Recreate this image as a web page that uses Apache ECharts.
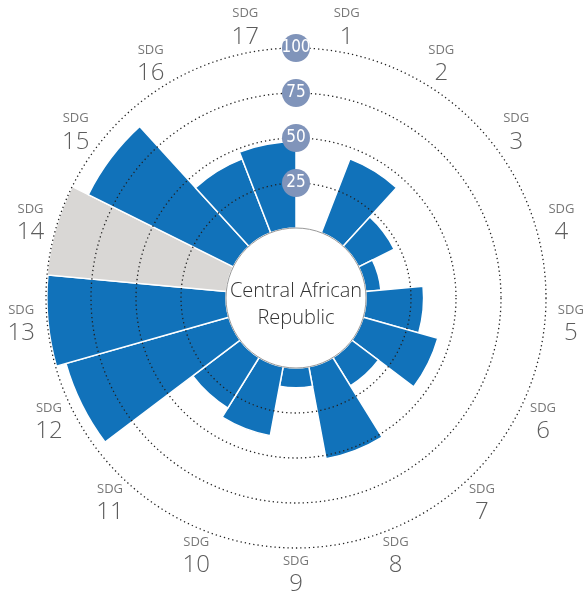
<!DOCTYPE html>
<html>
<head>
<meta charset="utf-8">
<script src="https://cdn.jsdelivr.net/npm/echarts@6/dist/echarts.min.js"></script>
<style>html,body{margin:0;padding:0;background:#fff}#c{width:584px;height:592px}</style>
</head>
<body>
<div id="c"></div>
<script>
// SDG goal numbers (angle categories, clockwise from 12 o'clock)
const categories = ['1','2','3','4','5','6','7','8','9','10','11','12','13','14','15','16','17'];
// Score per SDG (null = no bar drawn)
const values = [null, 44, 22, 8.5, 32, 43, 18.5, 52, 11, 39, 33, 94, 99.5, 100, 90, 44, 48];
// SDG with insufficient data (drawn in grey)
const missing = [false,false,false,false,false,false,false,false,false,false,false,false,false,true,false,false,false];
const ringTicks = [25, 50, 75, 100];
const countryLines = ['Central African', 'Republic'];

const CX = 296, CY = 298;
const BLUE = '#1172BA', GREY = '#D9D7D5';

const barData = values.map((v, i) => ({
  value: v,
  itemStyle: { color: missing[i] ? GREY : BLUE }
}));

const chart = echarts.init(document.getElementById('c'), null, { renderer: 'canvas' });
chart.setOption({
  animation: false,
  backgroundColor: '#fff',
  polar: [
    { center: [CX, CY], radius: [70, 250] },
    { center: [CX, CY], radius: [0, 276] }
  ],
  angleAxis: [
    { polarIndex: 0, type: 'category', data: categories, startAngle: 90, clockwise: true,
      boundaryGap: true, axisLine: { show: false }, axisTick: { show: false },
      axisLabel: { show: false }, splitLine: { show: false } },
    { polarIndex: 1, type: 'category', data: categories, startAngle: 90, clockwise: true,
      boundaryGap: true, axisLine: { show: false }, axisTick: { show: false },
      axisLabel: { show: false }, splitLine: { show: false } }
  ],
  radiusAxis: [
    { polarIndex: 0, min: 0, max: ringTicks[ringTicks.length - 1], interval: 25, z: 5,
      axisLine: { show: false }, axisTick: { show: false },
      splitLine: { show: true, lineStyle: { color: ['rgba(0,0,0,0)', '#222', '#222', '#222', '#222'], width: 1.3, type: [1.3, 3] } },
      axisLabel: {
        show: true, showMinLabel: false, margin: 0, align: 'center', verticalAlign: 'middle',
        backgroundColor: '#8094BA', borderRadius: 14, width: 28, height: 28, lineHeight: 28,
        color: '#fff', fontSize: 17, fontFamily: '"DejaVu Sans Condensed", "Liberation Sans Narrow", sans-serif',
        formatter: v => ringTicks.indexOf(v) >= 0 ? String(v) : ''
      } },
    { polarIndex: 1, min: 0, max: 1, show: false }
  ],
  series: [
    { type: 'bar', coordinateSystem: 'polar', polarIndex: 0, data: barData,
      barCategoryGap: '0%', itemStyle: { borderColor: '#fff', borderWidth: 1.5 }, z: 2 },
    { type: 'scatter', coordinateSystem: 'polar', polarIndex: 1, symbolSize: 0, silent: true,
      data: categories.map((c, i) => [1, i]),
      label: { show: true, position: 'inside',
        formatter: p => '{a|SDG}\n{b|' + categories[p.dataIndex] + '}',
        rich: {
          a: { fontSize: 13, color: '#555', lineHeight: 20, align: 'center', fontFamily: 'Open Sans, sans-serif' },
          b: { fontSize: 24, color: '#333', lineHeight: 26, align: 'center', fontFamily: 'Open Sans, sans-serif', fontWeight: 300 }
        } } }
  ],
  graphic: [
    { type: 'circle', shape: { cx: CX, cy: CY, r: 70 }, style: { fill: '#fff', stroke: '#999', lineWidth: 1 }, z: 20 },
    { type: 'text', x: CX, y: CY + 7, z: 21,
      style: { text: countryLines.join('\n'), align: 'center', verticalAlign: 'middle',
        font: '300 20px "Open Sans", sans-serif', lineHeight: 27, fill: '#333' } }
  ]
});
</script>
</body>
</html>
